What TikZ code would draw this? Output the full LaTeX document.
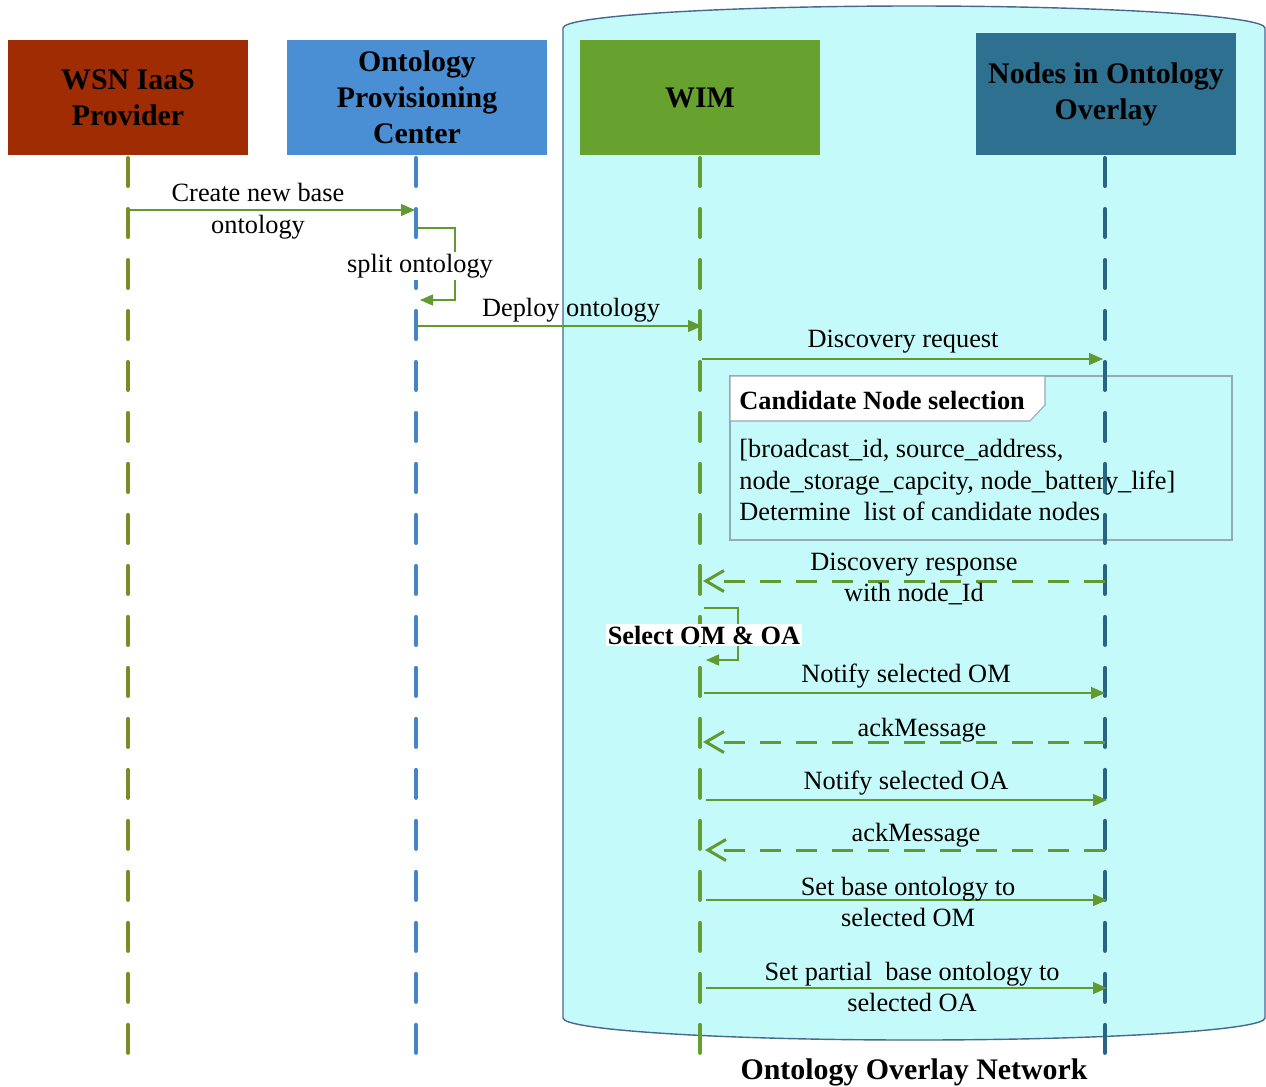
\documentclass[tikz,border=0pt]{standalone}
\usepackage{fontspec}
\setmainfont{Liberation Serif}
\usetikzlibrary{arrows.meta,calc}
\definecolor{wsnfill}{RGB}{160,44,4}
\definecolor{opcfill}{RGB}{74,143,212}
\definecolor{wimfill}{RGB}{104,162,46}
\definecolor{nodfill}{RGB}{46,112,144}
\definecolor{wsnline}{RGB}{122,140,40}
\definecolor{opcline}{RGB}{70,132,200}
\definecolor{wimline}{RGB}{98,158,48}
\definecolor{nodline}{RGB}{40,100,132}
\definecolor{msggreen}{RGB}{96,154,48}
\definecolor{netfill}{RGB}{197,250,250}
\definecolor{netedge}{RGB}{70,105,140}
\definecolor{framecol}{RGB}{150,170,180}
\begin{document}
\begin{tikzpicture}[x=0.02cm,y=-0.02cm,
  head/.style={minimum width=4.8cm, minimum height=2.3cm, inner sep=0pt, align=center,
    font=\fontsize{17}{20.5}\selectfont\bfseries},
  lifeline/.style={line width=2.3pt, line cap=round, dash pattern=on 0.56cm off 0.46cm},
  msg/.style={draw=msggreen, line width=0.7pt, -{Triangle[length=0.28cm,width=0.24cm]}},
  selfmsg/.style={draw=msggreen, line width=0.7pt, -{Triangle[length=0.26cm,width=0.22cm]}},
  reply/.style={draw=msggreen, line width=1.7pt, dash pattern=on 0.42cm off 0.3cm,
    -{Straight Barb[length=0.36cm,width=0.42cm]}},
  lbl/.style={font=\fontsize{15}{18}\selectfont, align=center, inner sep=1pt},
  frame/.style={draw=framecol, line width=0.6pt}
]
\useasboundingbox (0,0) rectangle (1266,1086);

% overlay network cylinder
\draw[netedge, line width=0.8pt, fill=netfill]
  (563,28) .. controls (563,16) and (720,6) .. (914,6)
           .. controls (1108,6) and (1265,16) .. (1265,28)
  -- (1265,1018) .. controls (1265,1030) and (1108,1040) .. (914,1040)
           .. controls (720,1040) and (563,1030) .. (563,1018) -- cycle;
\node[font=\fontsize{17}{20}\selectfont\bfseries] (netlabel) at (914,1072) {Ontology Overlay Network};

% header boxes
\node[head, fill=wsnfill] (wsn) at (128,97.5) {WSN IaaS\\Provider};
\node[head, fill=opcfill, minimum width=5.2cm] (opc) at (417,97.5) {Ontology\\Provisioning\\Center};
\node[head, fill=wimfill] (wim) at (700,97.5) {WIM};
\node[head, fill=nodfill, minimum width=5.2cm, minimum height=2.44cm] (nod) at (1106,94) {\vphantom{g}Nodes in Ontology\\Overlay};

% lifeline x positions and bottom
\coordinate (xw) at (128,0);
\coordinate (xo) at (416,0);
\coordinate (xm) at (700,0);
\coordinate (xn) at (1105,0);
\coordinate (bot) at (0,1053);

% candidate node selection fragment
\draw[frame] (730,376) rectangle (1232,540);
\draw[frame, fill=white] (730,376) -- (1045,376) -- (1045,405) -- (1030,421) -- (730,421) -- cycle;
\node[font=\fontsize{15}{18}\selectfont\bfseries, anchor=west, inner sep=0pt] (cnstitle) at (739,400) {Candidate Node selection};
\node[font=\fontsize{15}{18}\selectfont, anchor=west, align=left, inner sep=0pt] (cnsbody) at (739,480)
  {[broadcast\_id, source\_address,\\node\_storage\_capcity, node\_battery\_life]\\Determine\ \ list of candidate nodes};

% lifelines
\draw[lifeline, draw=wsnline] ($(xw)+(0,158)$) -- (xw |- bot);
\draw[lifeline, draw=opcline] ($(xo)+(0,158)$) -- (xo |- bot);
\draw[lifeline, draw=wimline] ($(xm)+(0,158)$) -- (xm |- bot);
\draw[lifeline, draw=nodline] ($(xn)+(0,158)$) -- (xn |- bot);

% messages
\draw[msg] ($(xw)+(2,210)$) -- ($(xo)+(-1,210)$);
\node[lbl] (m1) at (258,211) {Create new base\\ontology};

\draw[selfmsg] ($(xo)+(2,228)$) -| ($(xo)+(39,264)$) |- ($(xo)+(4,300)$);
\node[lbl, fill=white] (m2) at (420,266) {split ontology};

\draw[msg] ($(xo)+(2,326)$) -- ($(xm)+(2,326)$);
\node[lbl] (m3) at (571,310) {Deploy ontology};

\draw[msg] ($(xm)+(2,359)$) -- ($(xn)+(-2,359)$);
\node[lbl] (m4) at (903,342) {Discovery request};

\draw[reply] ($(xn)+(0,581)$) -- ($(xm)+(3,581)$);
\node[lbl] (m5) at (914,579) {Discovery response\\with node\_Id};

\draw[selfmsg] ($(xm)+(4,608)$) -| ($(xm)+(38,634)$) |- ($(xm)+(6,660)$);
\node[lbl, fill=white, font=\fontsize{15}{18}\selectfont\bfseries] (m6) at (704,635) {Select OM \& OA};

\draw[msg] ($(xm)+(4,693)$) -- ($(xn)+(0,693)$);
\node[lbl] (m7) at (906,676) {Notify selected OM};

\draw[reply] ($(xn)+(0,742)$) -- ($(xm)+(3,742)$);
\node[lbl] (m8) at (922,730) {ackMessage};

\draw[msg] ($(xm)+(6,800)$) -- ($(xn)+(2,800)$);
\node[lbl] (m9) at (906,783) {Notify selected OA};

\draw[reply] ($(xn)+(0,850)$) -- ($(xm)+(5,850)$);
\node[lbl] (m10) at (916,835) {ackMessage};

\draw[msg] ($(xm)+(6,900)$) -- ($(xn)+(2,900)$);
\node[lbl] (m11) at (908,902) {Set base ontology to\\selected OM};

\draw[msg] ($(xm)+(6,988)$) -- ($(xn)+(2,988)$);
\node[lbl] (m12) at (912,987) {Set partial\ \ base ontology to\\selected OA};
\end{tikzpicture}
\end{document}
